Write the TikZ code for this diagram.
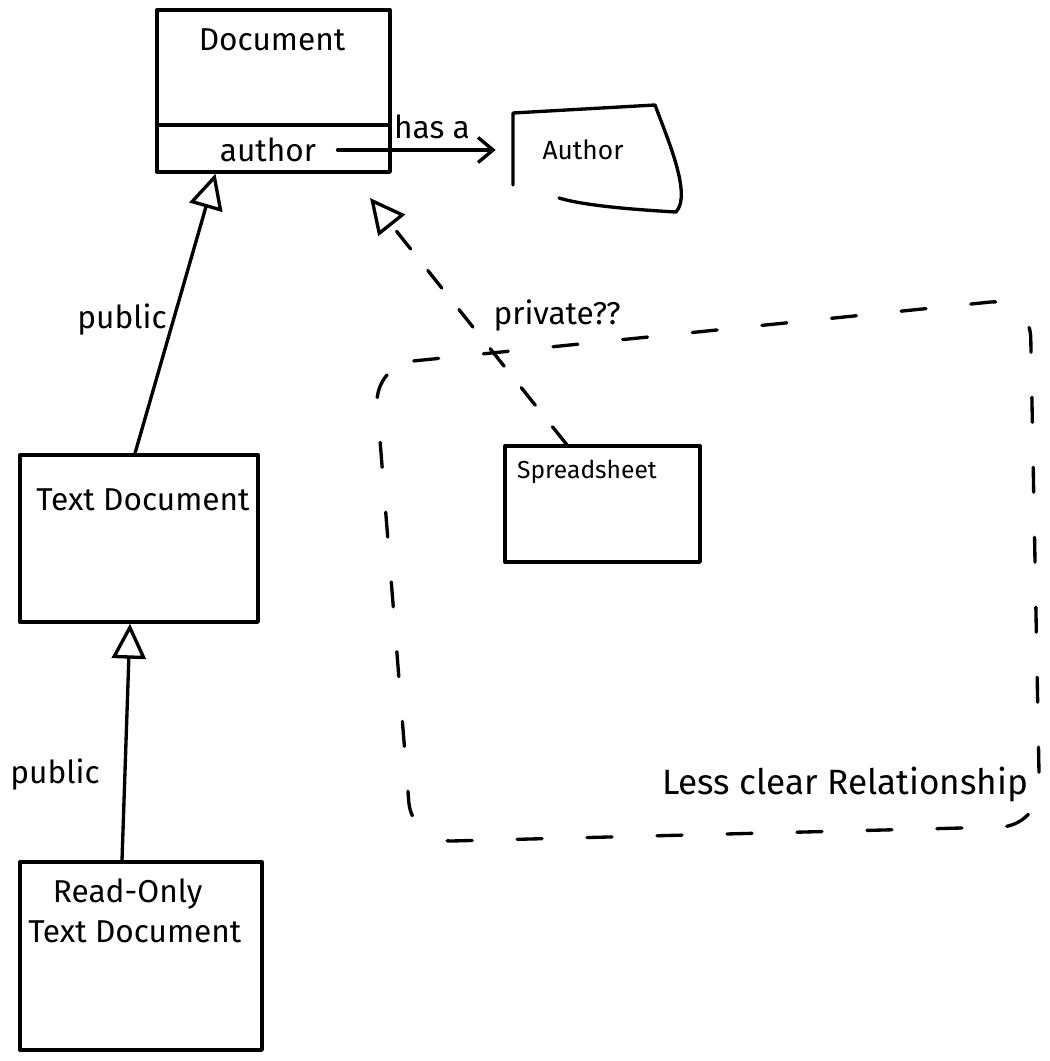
\documentclass[tikz,border=0pt]{standalone}
\usepackage{fontspec}
\setmainfont{Fira Sans}
\usetikzlibrary{arrows.meta,calc,fit}
\begin{document}
\begin{tikzpicture}[x=0.02cm,y=-0.02cm,
  ink/.style={line width=1.9pt, black, line join=round, line cap=round},
  classbox/.style={ink, draw, rectangle, inner sep=0pt},
  ghost/.style={rectangle, inner sep=0pt},
  lbl/.style={font=\fontsize{18}{21}\selectfont, inner sep=0pt},
  small/.style={font=\fontsize{14}{17}\selectfont, inner sep=0pt},
  big/.style={font=\fontsize{20}{24}\selectfont, inner sep=0pt},
  inherit/.style={ink, -{Triangle[open,length=0.7cm,width=0.68cm,line width=1.9pt]}},
  hasarrow/.style={ink, -{Straight Barb[length=0.3cm,width=0.5cm,line width=1.9pt]}},
  unclear/.style={ink, dash pattern=on 0.45cm off 0.55cm},
  region/.style={ink, dash pattern=on 0.5cm off 0.9cm, rounded corners=0.8cm}
]
\useasboundingbox (0,0) rectangle (1050,1061);

% Document class
\node[classbox, fit={(157,10) (390,172)}] (doc) {};
\draw[ink] (157,125) -- (390,125);
\node[lbl] (doctitle) at (272,40) {Document};
\node[lbl] (authattr) at (268,150) {author};

% Author class (hand-drawn outline)
\draw[ink] (513,185) -- (513,113) -- (655,105)
  .. controls (668,140) and (692,195) .. (676,212)
  .. controls (640,210) and (585,206) .. (559,198);
\node[ghost, fit={(513,105) (680,212)}] (authorbox) {};
\node[small, font=\fontsize{15}{18}\selectfont] (authortitle) at (583,150) {Author};

% has-a association
\draw[hasarrow, shorten <=12pt, shorten >=0.34cm] (authattr.east) -- (authorbox.west |- authattr.east);
\node[lbl] (hasa) at (432,127) {has a};

% Text Document
\node[classbox, fit={(20,455) (258,622)}] (textdoc) {};
\node[lbl] (textdoctitle) at (143,500) {Text Document};

% Read-Only Text Document
\node[classbox, fit={(20,862) (262,1050)}] (rodoc) {};
\node[lbl, align=left, anchor=north west] (rodoctitle) at (28,878) {\hspace*{14pt}Read-Only\\[2pt]Text Document};

% Spreadsheet
\node[classbox, fit={(505,446) (700,562)}] (ss) {};
\node[small] (sstitle) at (587,472) {Spreadsheet};

% inheritance
\draw[inherit] ($(textdoc.north)+(-4,0)$) -- ($(doc.south)+(-58,0)$);
\node[lbl] (pub1) at (122,320) {public};
\draw[inherit] ($(rodoc.north)+(-19,0)$) -- ($(textdoc.south)+(-9,0)$);
\node[lbl] (pub2) at (55,775) {public};

% unclear private inheritance
\coordinate (docpt) at (370,198);
\draw[unclear, -{Triangle[open,length=0.7cm,width=0.68cm,line width=1.9pt]}] ($(ss.north)+(-36,0)$) -- (docpt);
\node[lbl] (priv) at (557,316) {private??};

% region
\draw[region] (374,365) -- (1030,298) -- (1040,826) -- (412,842) -- cycle;
\node[big] (regionlbl) at (845,785) {Less clear Relationship};
\end{tikzpicture}
\end{document}
